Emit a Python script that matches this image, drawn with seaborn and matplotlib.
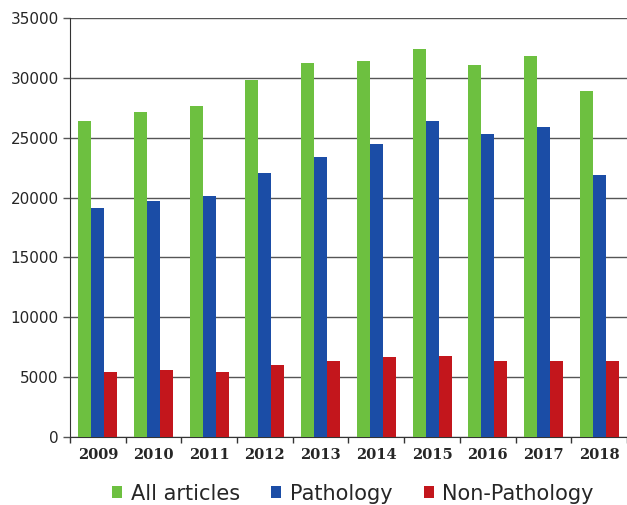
import numpy as np
import pandas as pd
import seaborn as sns
import matplotlib.pyplot as plt

# Datos
years = ['2009', '2010', '2011', '2012', '2013', '2014', '2015', '2016', '2017', '2018']
all_articles = [26400, 27150, 27640, 29800, 31230, 31400, 32400, 31060, 31810, 28900]
pathology = [19130, 19700, 20120, 22040, 23380, 24460, 26390, 25300, 25890, 21880]
non_pathology = [5430, 5600, 5430, 6000, 6350, 6680, 6760, 6350, 6350, 6350]
series = ['All articles', 'Pathology', 'Non-Pathology']
colores = ['#6DC040', '#1B4DA6', '#C3161C']

# Tabla larga para seaborn
df = pd.DataFrame({
    'Year': years * 3,
    'Serie': [series[0]] * 10 + [series[1]] * 10 + [series[2]] * 10,
    'Count': all_articles + pathology + non_pathology,
})

sns.set_style('white')
plt.rcParams['font.family'] = ['DejaVu Sans']

fig = plt.figure(figsize=(6.27, 5.05), dpi=100)
ax = fig.add_axes([0.1116, 0.1347, 0.8884, 0.8297])

sns.barplot(data=df, x='Year', y='Count', hue='Serie', hue_order=series,
            palette=colores, width=0.7, gap=0, saturation=1, linewidth=0,
            ax=ax, zorder=3)

# Rejilla horizontal
ax.set_ylim(0, 35000)
ax.set_yticks(np.arange(0, 35001, 5000))
ax.yaxis.grid(True, color='#555555', linewidth=1, zorder=0)
ax.set_axisbelow(True)
ax.set_xlim(-0.5, 9.5)

# Marcas del eje x entre categorias
ax.set_xticks(np.arange(-0.5, 10, 1), minor=True)
ax.tick_params(axis='x', which='minor', length=4, width=1, color='#333333', direction='out', bottom=True)
ax.tick_params(axis='x', which='major', length=0, pad=8)
ax.tick_params(axis='y', length=5, width=1, color='#555555', left=True, labelsize=11, pad=3)

for lab in ax.get_xticklabels():
    lab.set_fontfamily('DejaVu Serif')
    lab.set_fontweight('bold')
    lab.set_fontsize(10.5)

for s in ['top', 'right']:
    ax.spines[s].set_visible(False)
ax.spines['left'].set_color('#333333')
ax.spines['bottom'].set_color('#333333')
ax.set_xlabel('')
ax.set_ylabel('')

ax.legend(loc='center', bbox_to_anchor=(0.508, -0.135), ncol=3, frameon=False,
          fontsize=15, handlelength=0.5, handleheight=0.5, handletextpad=0.4,
          columnspacing=1.5)

plt.savefig('out.png', dpi=100)
